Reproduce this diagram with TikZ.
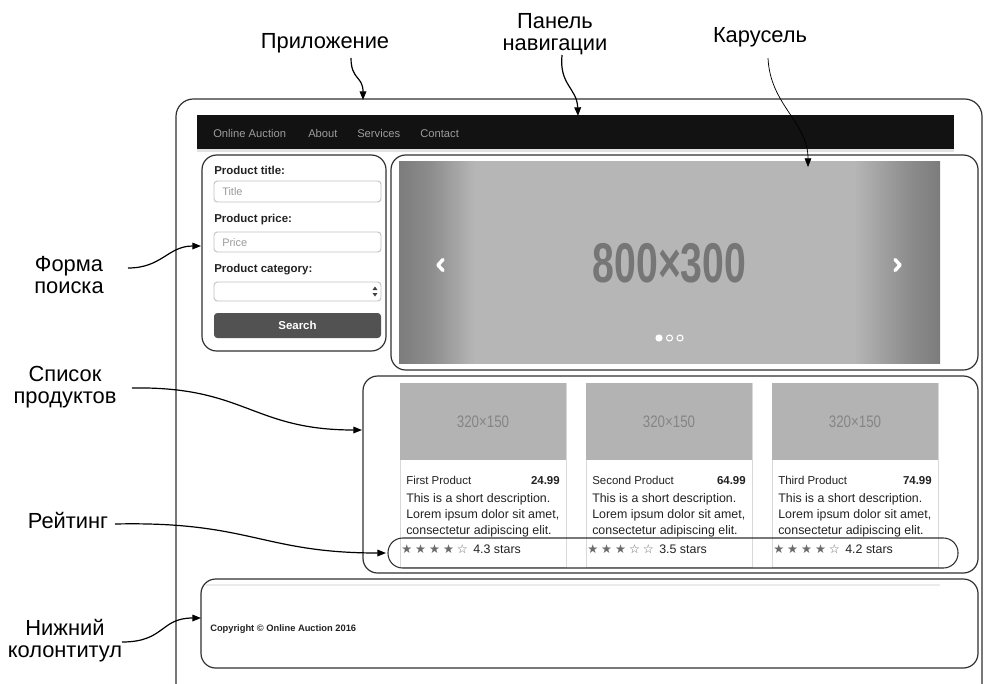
\documentclass[tikz,border=0pt]{standalone}
\usepackage{fontspec}
\setmainfont{Liberation Sans}
\newfontfamily\bignum[FakeStretch=0.7]{Liberation Sans}
\newfontfamily\smallnum[FakeStretch=0.8]{Liberation Sans}
\newfontfamily\starfont{DejaVu Sans}
\usetikzlibrary{arrows.meta,calc}
\definecolor{framec}{HTML}{303030}
\definecolor{navbg}{HTML}{121212}
\definecolor{navtxt}{HTML}{9C9C9C}
\definecolor{imgfill}{HTML}{B6B6B6}
\definecolor{imgedge}{HTML}{7C7C7C}
\definecolor{imgtxt}{HTML}{767676}
\definecolor{thumbfill}{HTML}{B3B3B3}
\definecolor{thumbtxt}{HTML}{858585}
\definecolor{cardline}{HTML}{D8D8D8}
\definecolor{fieldline}{HTML}{C2C2C2}
\definecolor{holder}{HTML}{9A9A9A}
\definecolor{btnfill}{HTML}{525252}
\definecolor{bodytxt}{HTML}{222222}
\definecolor{stargrey}{HTML}{6A6A6A}
\definecolor{shadowline}{HTML}{E2E2E2}
% carousel background: dark bands at both sides
\pgfdeclarehorizontalshading{slidebg}{100bp}{%
  color(0bp)=(imgedge); color(25bp)=(imgedge); color(28bp)=(imgedge!70!imgfill);
  color(32bp)=(imgfill); color(67bp)=(imgfill); color(72bp)=(imgedge!70!imgfill);
  color(75bp)=(imgedge); color(100bp)=(imgedge)}
\begin{document}
\begin{tikzpicture}[x=0.75pt,y=-0.75pt,
  region/.style={draw=framec,line width=0.9pt,rounded corners=11pt},
  callout/.style={draw=black,line width=0.9pt,-{Triangle[length=6.5pt,width=5pt]}},
  calloutlabel/.style={font=\fontsize{16.4}{16.5}\selectfont,align=center,inner sep=0pt,anchor=base},
  field/.style={draw=fieldline,line width=0.7pt,rounded corners=2.5pt,fill=white},
  formlabel/.style={font=\bfseries\fontsize{8.6}{10}\selectfont,anchor=base west,inner sep=0pt,text=bodytxt},
  placeholder/.style={font=\fontsize{8.2}{10}\selectfont,anchor=base west,inner sep=0pt,text=holder},
  navitem/.style={font=\fontsize{8.4}{10}\selectfont,anchor=base west,inner sep=0pt,text=navtxt},
  card/.style={draw=cardline,line width=0.6pt,fill=white},
  cardtxt/.style={font=\fontsize{9.3}{12}\selectfont,anchor=base west,inner sep=0pt,text=bodytxt},
  cardhead/.style={font=\fontsize{8.6}{10}\selectfont,inner sep=0pt,text=bodytxt},
]
\useasboundingbox (0,0) rectangle (984,683);
\clip (0,0) rectangle (984,683);

% ---------- application frame ----------
\draw[region,rounded corners=13pt] (176,99) rectangle (982,710);

% ---------- navigation bar ----------
\fill[shadowline] (197,149) rectangle (954,152);
\fill[navbg] (197,115) rectangle (954,149);
\node[navitem] (navBrand) at (213,137) {Online Auction};
\node[navitem] (navAbout) at (308,137) {About};
\node[navitem] (navServ) at (357,137) {Services};
\node[navitem] (navCont) at (420,137) {Contact};

% ---------- search form ----------
\draw[region] (202,155) rectangle (386,351);
\node[formlabel] (fTitle) at (214,174) {Product title:};
\draw[field] (214,181) rectangle (381,202);
\node[placeholder] (pTitle) at (222,195) {Title};
\node[formlabel] (fPrice) at (214,222) {Product price:};
\draw[field] (214,232) rectangle (381,252);
\node[placeholder] (pPrice) at (222,246) {Price};
\node[formlabel] (fCat) at (214,272) {Product category:};
\draw[field] (214,282) rectangle (381,301);
\fill[black!75] (372.5,290) -- (375,286.5) -- (377.5,290) -- cycle;
\fill[black!75] (372.5,293) -- (375,296.5) -- (377.5,293) -- cycle;
\fill[btnfill,rounded corners=2.5pt] (214,313) rectangle (381,338);
\node[font=\bfseries\fontsize{8.6}{10}\selectfont,text=white,inner sep=0pt] (btnSearch) at (297.5,325.5) {Search};

% ---------- carousel ----------
\draw[region] (391,155) rectangle (978,370);
\shade[shading=slidebg] (399,161) rectangle (940,363);
\node[font=\bignum\bfseries\fontsize{42}{42}\selectfont,text=imgtxt,inner sep=0pt] (slideTxt) at (669.5,263) {800×300};
\draw[white,line width=2.6pt,line cap=round,line join=round] (443,259.5) -- (438,265) -- (443,270.5);
\draw[white,line width=2.6pt,line cap=round,line join=round] (895,259.5) -- (900,265) -- (895,270.5);
\fill[white] (659,338) circle (3.6);
\draw[white,line width=0.8pt] (669.5,338) circle (3);
\draw[white,line width=0.8pt] (680,338) circle (3);

% ---------- product list ----------
\draw[region] (363,376) rectangle (978,573);
\foreach \lx/\pname/\pprice/\pstars/\prate in
  {400/First Product/24.99/{★\hspace{2.2pt}★\hspace{2.2pt}★\hspace{2.2pt}★\hspace{2.2pt}☆}/4.3,
   586/Second Product/64.99/{★\hspace{2.2pt}★\hspace{2.2pt}★\hspace{2.2pt}☆\hspace{2.2pt}☆}/3.5,
   772/Third Product/74.99/{★\hspace{2.2pt}★\hspace{2.2pt}★\hspace{2.2pt}★\hspace{2.2pt}☆}/4.2}{
  \draw[card] (\lx,383) rectangle ({\lx+166},567);
  \fill[thumbfill] ({\lx+0.4},383.4) rectangle ({\lx+165.6},460);
  \node[font=\smallnum\fontsize{12.5}{13}\selectfont,text=thumbtxt,inner sep=0pt] at ({\lx+83},422) {320×150};
  \node[cardhead,anchor=base west] at ({\lx+6},484) {\pname};
  \node[cardhead,anchor=base east,font=\bfseries\fontsize{8.6}{10}\selectfont] at ({\lx+160},484) {\pprice};
  \node[cardtxt] at ({\lx+6},502) {This is a short description.};
  \node[cardtxt] at ({\lx+6},518) {Lorem ipsum dolor sit amet,};
  \node[cardtxt] at ({\lx+6},534) {consectetur adipiscing elit.};
  \node[cardtxt] at ({\lx+1},553) {{\starfont\fontsize{9.2}{10}\selectfont\color{stargrey}\pstars}\hspace{4pt}\prate{} stars};
}
\draw[framec,line width=0.8pt,rounded corners=11pt] (388,538) rectangle (958,568);

% ---------- footer ----------
\draw[region] (201,579) rectangle (978,668);
\fill[shadowline!70] (206,584) rectangle (940,586);
\node[font=\bfseries\fontsize{7}{9}\selectfont,text=bodytxt,anchor=base west,inner sep=0pt] (copyTxt) at (210,631) {Copyright © Online Auction 2016};

% ---------- callout labels (base = last line) ----------
\node[calloutlabel] (lApp) at (325,48) {Приложение};
\node[calloutlabel] (lNav) at (555,50) {Панель\\навигации};
\node[calloutlabel] (lCar) at (760,42) {Карусель};
\node[calloutlabel] (lForm) at (69,293) {Форма\\поиска};
\node[calloutlabel] (lList) at (65,403) {Список\\продуктов};
\node[calloutlabel] (lRate) at (68,528) {Рейтинг};
\node[calloutlabel] (lFoot) at (65,657) {Нижний\\колонтитул};

% arrow targets
\coordinate (tApp) at (363,100);
\coordinate (tNav) at (578,116);
\coordinate (tCar) at (808,167);
\coordinate (tForm) at (201,246);
\coordinate (tList) at (362,430);
\coordinate (tRate) at (386,553);
\coordinate (tFoot) at (201,618);

\draw[callout] ($(lApp.base)+(26,10)$) .. controls (351,80) and (363,76) .. (tApp);
\draw[callout] ($(lNav.base)+(7,5)$) .. controls (559,85) and (577,88) .. (tNav);
\draw[callout,line width=0.55pt] ($(lCar.base)+(8,16)$) .. controls (770,105) and (808,122) .. (tCar);
\draw[callout] ($(lForm.base)+(59,-25)$) .. controls (162,268) and (168,246) .. (tForm);
\draw[callout] ($(lList.base)+(67,-15)$) .. controls (245,386) and (252,430) .. (tList);
\draw[callout] ($(lRate.base)+(47,-4)$) .. controls (250,521) and (262,553) .. (tRate);
\draw[callout] ($(lFoot.base)+(57,-15)$) .. controls (165,642) and (160,618) .. (tFoot);
\end{tikzpicture}
\end{document}
